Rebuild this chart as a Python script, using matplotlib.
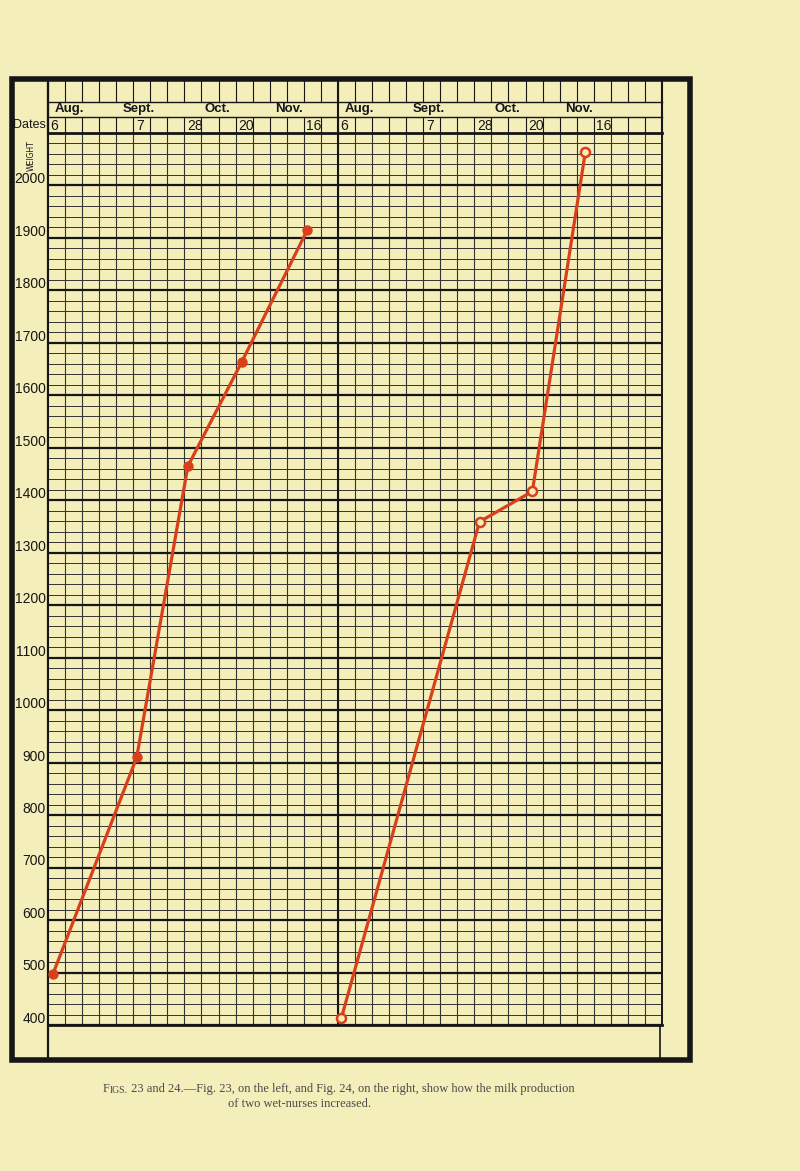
import matplotlib
matplotlib.use("Agg")
import matplotlib.pyplot as plt
from matplotlib.patches import Rectangle
from matplotlib.transforms import blended_transform_factory

# x values are in chart columns (about one week each), y values are weights
left_cols = [0.3, 5.2, 8.2, 11.35, 15.2]
left_weights = [498, 910, 1465, 1663, 1915]
right_cols = [0.2, 8.3, 11.4, 14.5]
right_weights = [413, 1359, 1417, 2063]

n_left = 17
n_right = 19

months = ["Aug.", "Sept.", "Oct.", "Nov."]
month_cols = [0.4, 4.4, 9.2, 13.3]
dates = ["6", "7", "28", "20", "16"]
date_cols = [0, 5, 8, 11, 15]

weight_ticks = list(range(400, 2001, 100))
weight_labels = [str(w) for w in weight_ticks]

BG = "#f4eebb"
RED = "#d8401c"
INK = "#161616"
CAP = "#4a4a4a"
SANS = "Liberation Sans"

fig = plt.figure(figsize=(8, 11.71), dpi=100, facecolor=BG)

# page axes in pixel units, for frame and caption
bg = fig.add_axes([0, 0, 1, 1])
bg.set_xlim(0, 800)
bg.set_ylim(1171, 0)
bg.axis("off")
bg.add_patch(Rectangle((12, 79), 678, 981, fill=False, lw=4, ec=INK))
bg.plot([48, 48], [79, 1060], color=INK, lw=1.6)
bg.plot([660, 660], [1025, 1060], color=INK, lw=1.2)

# grid axes
n_total = n_left + n_right
ax = fig.add_axes([48 / 800, (1171 - 1025) / 1171, 614 / 800, 892 / 1171])
ax.set_facecolor(BG)
ax.set_xlim(0, n_total)
ax.set_ylim(400, 2100)
ax.set_xticks(range(0, n_total + 1))
ax.set_yticks(range(400, 2101, 100))
ax.set_yticks(range(400, 2101, 20), minor=True)
ax.tick_params(which="both", length=0, labelleft=False, labelbottom=False)
ax.grid(axis="x", which="major", color="#333333", lw=0.8)
ax.grid(axis="y", which="major", color=INK, lw=1.6)
ax.grid(axis="y", which="minor", color="#333333", lw=0.7)
ax.set_axisbelow(True)
ax.axvline(n_left, color=INK, lw=1.5, zorder=1)
for side, sp in ax.spines.items():
    sp.set_color(INK)
    sp.set_linewidth(2 if side in ("top", "bottom") else 1.4)

# header rows above the grid
hdr = blended_transform_factory(ax.transData, ax.transAxes)
y_top, y_month, y_date = 1.0605, 1.0348, 1.0179
for yy in (y_month, y_date):
    ax.plot([0, n_total], [yy, yy], transform=hdr, color=INK, lw=1.0, clip_on=False)
for c in range(1, n_total):
    ax.plot([c, c], [y_month, y_top], transform=hdr, color=INK, lw=0.8, clip_on=False)
    ax.plot([c, c], [1.0, y_date], transform=hdr, color=INK, lw=0.8, clip_on=False)
for c in (0, n_left, n_total):
    ax.plot([c, c], [1.0, y_top], transform=hdr, color=INK, lw=1.5, clip_on=False)

for off in (0, n_left):
    for m, c in zip(months, month_cols):
        ax.text(off + c, (y_month + y_date) / 2, m, transform=hdr, ha="left", va="center",
                fontsize=9.5, fontweight="bold", family=SANS, color=INK)
    for d, c in zip(dates, date_cols):
        ax.text(off + c + 0.15, (y_date + 1.0) / 2 - 0.001, d, transform=hdr, ha="left",
                va="center", fontsize=10, family=SANS, color=INK)

# weight labels
lab = blended_transform_factory(ax.transAxes, ax.transData)
for w, s in zip(weight_ticks, weight_labels):
    ax.text(-0.004, w + 4, s, transform=lab, ha="right", va="baseline",
            fontsize=10, family=SANS, color=INK)
bg.text(46, 125, "Dates", ha="right", va="center", fontsize=9, family=SANS, color=INK)
bg.text(31, 156, "WEIGHT", rotation=90, ha="center", va="center", fontsize=5.5, color=INK)

# curves
ax.plot(left_cols, left_weights, color=RED, lw=2.3, marker="o", ms=6.5,
        mfc=RED, mec=RED, zorder=3, clip_on=False)
ax.plot([n_left + c for c in right_cols], right_weights, color=RED, lw=2.3, marker="o",
        ms=6.5, mfc=BG, mec=RED, mew=1.8, zorder=3, clip_on=False)

# caption
t1 = bg.text(103, 1095, "F", fontsize=9, family="Liberation Serif", color=CAP, va="bottom")
t2 = bg.annotate("IGS.", xy=(1, 0), xycoords=t1, va="bottom", fontsize=7,
                 family="Liberation Serif", color=CAP)
bg.annotate(" 23 and 24.\u2014Fig. 23, on the left, and Fig. 24, on the right, show how the milk production",
            xy=(1, 0), xycoords=t2, va="bottom", fontsize=9, family="Liberation Serif", color=CAP)
bg.text(228, 1110, "of two wet-nurses increased.", fontsize=9, family="Liberation Serif",
        color=CAP, va="bottom")

fig.savefig("out.png", dpi=100, facecolor=BG)
